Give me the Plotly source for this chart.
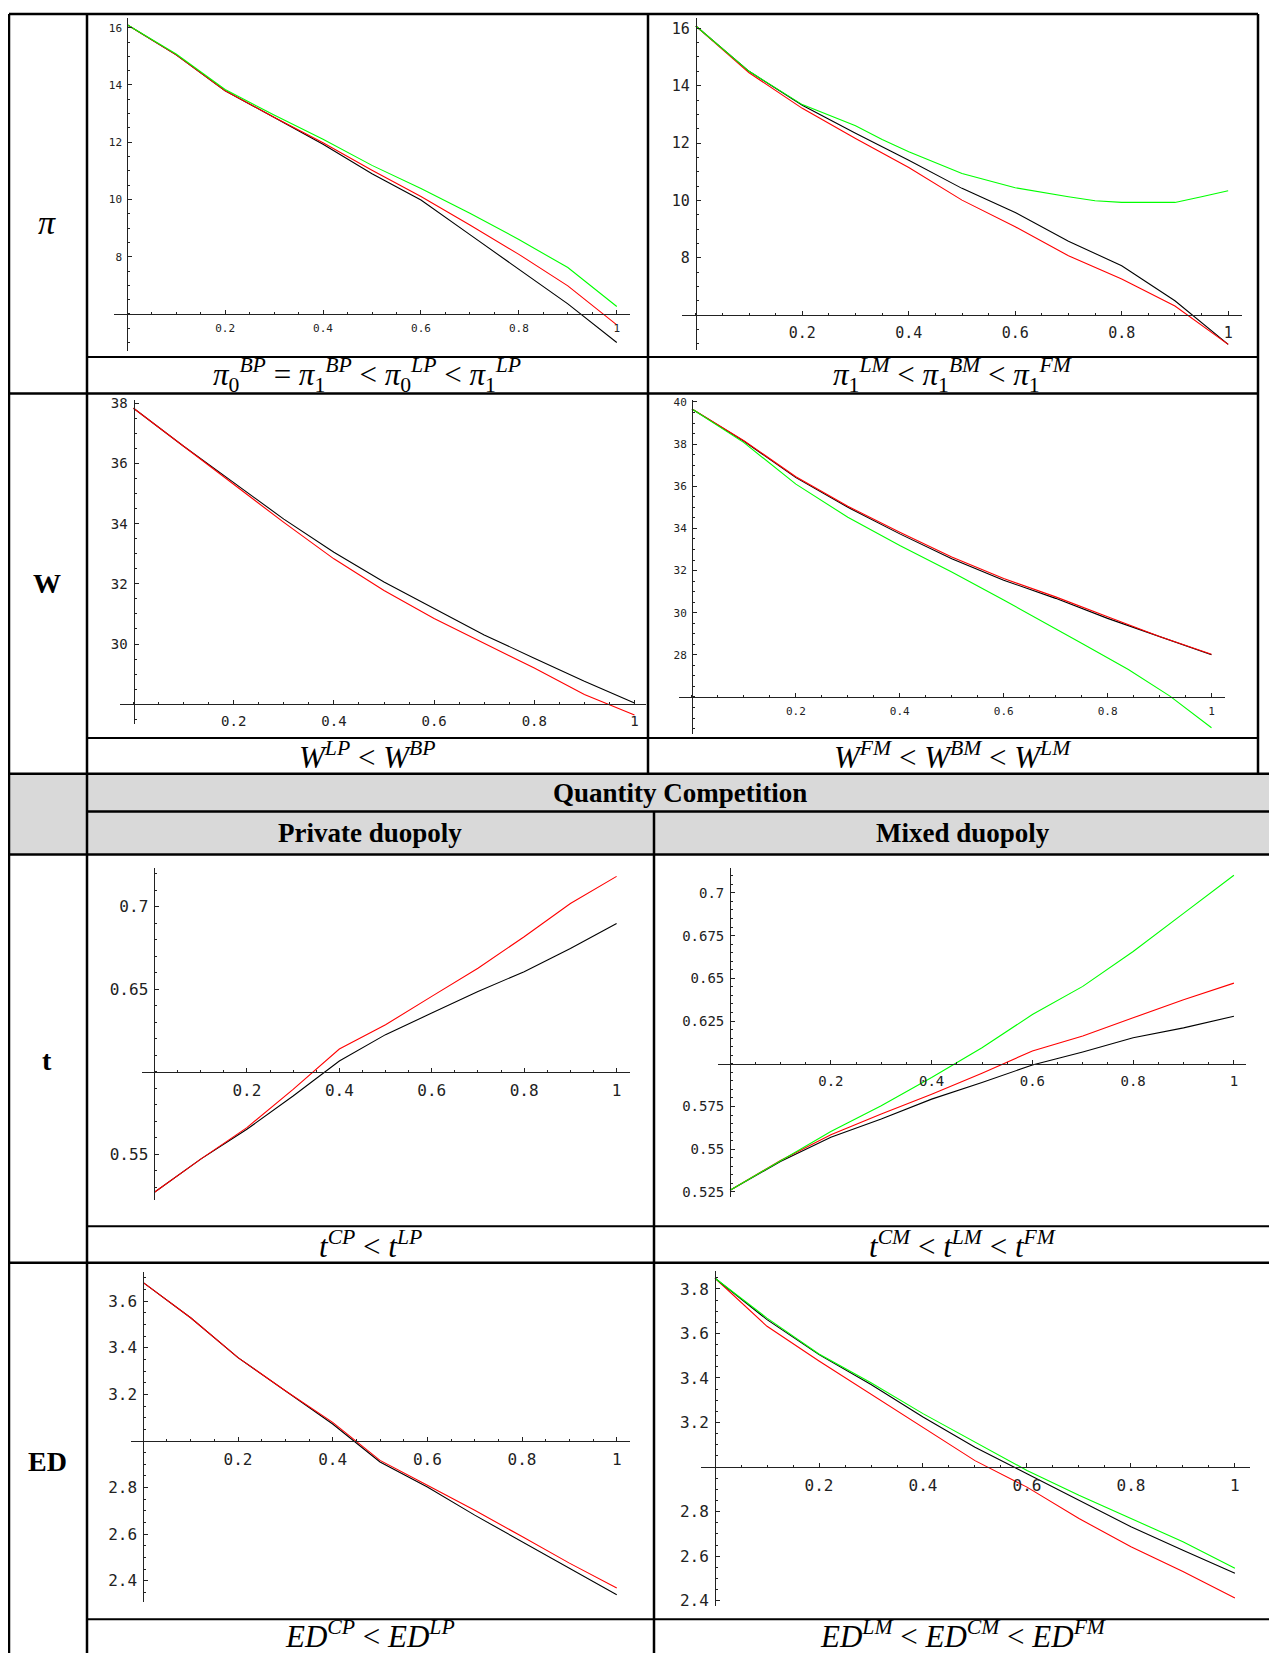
import plotly.graph_objects as go

# page offset: the browser puts an 8px margin around the plot div
OFF = 8
FIG_W, FIG_H = 1277 - OFF, 1657 - OFF

# ---------------- data ----------------
alpha = [0.0, 0.1, 0.2, 0.3, 0.4, 0.5, 0.6, 0.7, 0.8, 0.9, 1.0]

# Profit, private duopoly
pi_BP = [16.1, 15.05, 13.8, 12.85, 11.93, 10.9, 9.98, 8.77, 7.56, 6.35, 5.0]
pi_LP0 = [16.1, 15.05, 13.8, 12.87, 11.98, 11.02, 10.1, 9.11, 8.08, 6.98, 5.62]
pi_LP1 = [16.1, 15.08, 13.84, 12.95, 12.1, 11.19, 10.38, 9.52, 8.6, 7.62, 6.26]

# Profit, mixed duopoly
pi_BM = [16.08, 14.5, 13.32, 12.34, 11.4, 10.42, 9.58, 8.58, 7.72, 6.5, 4.98]
pi_LM = [16.08, 14.45, 13.21, 12.16, 11.15, 10.01, 9.08, 8.07, 7.26, 6.32, 4.98]
alpha_pi_FM = [0.0, 0.1, 0.2, 0.3, 0.35, 0.4, 0.5, 0.6, 0.7, 0.75, 0.8, 0.9, 0.95, 1.0]
pi_FM = [16.08, 14.5, 13.34, 12.6, 12.12, 11.7, 10.94, 10.44, 10.13, 9.99, 9.93, 9.93, 10.13, 10.34]

# Welfare, private duopoly
W_BP = [37.83, 36.57, 35.36, 34.15, 33.05, 32.06, 31.18, 30.3, 29.53, 28.76, 28.04]
W_LP = [37.83, 36.57, 35.3, 34.04, 32.83, 31.78, 30.85, 30.02, 29.2, 28.32, 27.64]

# Welfare, mixed duopoly
W_BM = [39.67, 38.14, 36.41, 35.0, 33.74, 32.56, 31.54, 30.68, 29.73, 28.87, 28.0]
W_LM = [39.67, 38.16, 36.45, 35.05, 33.82, 32.64, 31.62, 30.75, 29.81, 28.87, 28.03]
alpha_W_FM = [0.0, 0.1, 0.2, 0.3, 0.4, 0.5, 0.6, 0.7, 0.75, 0.84, 0.92, 1.0]
W_FM = [39.67, 38.07, 36.1, 34.53, 33.19, 31.93, 30.6, 29.26, 28.55, 27.3, 26.04, 24.54]

# Tax, private duopoly
t_CP = [0.5269, 0.547, 0.5651, 0.5853, 0.6065, 0.6225, 0.6356, 0.6487, 0.6607, 0.6748, 0.6899]
t_LP = [0.5269, 0.547, 0.5661, 0.5893, 0.6138, 0.6285, 0.6457, 0.6628, 0.6819, 0.702, 0.7185]

# Tax, mixed duopoly
t_CM = [0.526, 0.5428, 0.557, 0.5677, 0.5793, 0.589, 0.5993, 0.6069, 0.6152, 0.621, 0.6278]
t_LM = [0.526, 0.5434, 0.5584, 0.5706, 0.5822, 0.5945, 0.6075, 0.6162, 0.6269, 0.6375, 0.6472]
t_FM = [0.526, 0.5434, 0.5603, 0.5754, 0.5919, 0.6094, 0.6288, 0.6453, 0.6657, 0.688, 0.7103]

# Environmental damage, private duopoly
ED_CP = [3.68, 3.529, 3.358, 3.216, 3.073, 2.91, 2.803, 2.682, 2.568, 2.454, 2.34]
ED_LP = [3.68, 3.529, 3.358, 3.216, 3.08, 2.917, 2.81, 2.703, 2.59, 2.476, 2.369]

# Environmental damage, mixed duopoly
ED_LM = [3.848, 3.632, 3.476, 3.327, 3.18, 3.029, 2.91, 2.769, 2.642, 2.531, 2.412]
ED_CM = [3.848, 3.662, 3.505, 3.371, 3.225, 3.089, 2.97, 2.851, 2.732, 2.627, 2.523]
ED_FM = [3.848, 3.669, 3.508, 3.379, 3.24, 3.111, 2.985, 2.873, 2.769, 2.665, 2.546]

x_tickvals = [0.2, 0.4, 0.6, 0.8, 1.0]
x_ticktext = ["0.2", "0.4", "0.6", "0.8", "1"]

pi_ticks = [8, 10, 12, 14, 16]
W_p_ticks = [30, 32, 34, 36, 38]
W_m_ticks = [28, 30, 32, 34, 36, 38, 40]
t_p_ticks = [0.55, 0.65, 0.7]
t_p_text = ["0.55", "0.65", "0.7"]
t_m_ticks = [0.525, 0.55, 0.575, 0.625, 0.65, 0.675, 0.7]
t_m_text = ["0.525", "0.55", "0.575", "0.625", "0.65", "0.675", "0.7"]
ED_p_ticks = [2.4, 2.6, 2.8, 3.2, 3.4, 3.6]
ED_m_ticks = [2.4, 2.6, 2.8, 3.2, 3.4, 3.6, 3.8]

captions = [
    "<i>π</i><sub>0</sub><sup><i>BP</i></sup> = <i>π</i><sub>1</sub><sup><i>BP</i></sup> &lt; <i>π</i><sub>0</sub><sup><i>LP</i></sup> &lt; <i>π</i><sub>1</sub><sup><i>LP</i></sup>",
    "<i>π</i><sub>1</sub><sup><i>LM</i></sup> &lt; <i>π</i><sub>1</sub><sup><i>BM</i></sup> &lt; <i>π</i><sub>1</sub><sup><i>FM</i></sup>",
    "<i>W<sup>LP</sup></i> &lt; <i>W<sup>BP</sup></i>",
    "<i>W<sup>FM</sup></i> &lt; <i>W<sup>BM</sup></i> &lt; <i>W<sup>LM</sup></i>",
    "<i>t<sup>CP</sup></i> &lt; <i>t<sup>LP</sup></i>",
    "<i>t<sup>CM</sup></i> &lt; <i>t<sup>LM</sup></i> &lt; <i>t<sup>FM</sup></i>",
    "<i>ED<sup>CP</sup></i> &lt; <i>ED<sup>LP</sup></i>",
    "<i>ED<sup>LM</sup></i> &lt; <i>ED<sup>CM</sup></i> &lt; <i>ED<sup>FM</sup></i>",
]
row_labels = ["<i>π</i>", "<b>W</b>", "<b>t</b>", "<b>ED</b>"]
header_main = "<b>Quantity Competition</b>"
header_left = "<b>Private duopoly</b>"
header_right = "<b>Mixed duopoly</b>"

BLACK, RED, GREEN = "#000000", "#ff0000", "#00ff00"


def X(px):
    return (px - OFF) / FIG_W


def Y(py):
    return 1 - (py - OFF) / FIG_H


# ---------------- panel geometry (page pixels) ----------------
panels = [
    dict(px=(114, 630, 13, 348), xr=(-0.027, 1.027), yr=(4.7, 16.34), cross=6,
         yt=pi_ticks, ytt=None, ym=0.5, fs=11,
         series=[(alpha, pi_BP, BLACK), (alpha, pi_LP0, RED), (alpha, pi_LP1, GREEN)]),
    dict(px=(682, 1242, 13, 347), xr=(-0.026, 1.026), yr=(4.78, 16.36), cross=6,
         yt=pi_ticks, ytt=None, ym=0.5, fs=15,
         series=[(alpha, pi_BM, BLACK), (alpha, pi_LM, RED), (alpha_pi_FM, pi_FM, GREEN)]),
    dict(px=(120, 646, 397, 723), xr=(-0.027, 1.023), yr=(27.34, 38.11), cross=28,
         yt=W_p_ticks, ytt=None, ym=0.5, fs=14,
         series=[(alpha, W_BP, BLACK), (alpha, W_LP, RED)]),
    dict(px=(679, 1225, 397, 733), xr=(-0.025, 1.026), yr=(24.24, 40.1), cross=26,
         yt=W_m_ticks, ytt=None, ym=0.5, fs=11,
         series=[(alpha, W_BM, BLACK), (alpha, W_LM, RED), (alpha_W_FM, W_FM, GREEN)]),
    dict(px=(142, 630, 868, 1202), xr=(-0.027, 1.029), yr=(0.5219, 0.7234), cross=0.6,
         yt=t_p_ticks, ytt=t_p_text, ym=0.01, fs=16,
         series=[(alpha, t_CP, BLACK), (alpha, t_LP, RED)]),
    dict(px=(718, 1246, 868, 1198), xr=(-0.024, 1.024), yr=(0.5223, 0.7144), cross=0.6,
         yt=t_m_ticks, ytt=t_m_text, ym=0.005, fs=14,
         series=[(alpha, t_CM, BLACK), (alpha, t_LM, RED), (alpha, t_FM, GREEN)]),
    dict(px=(131, 630, 1274, 1606), xr=(-0.026, 1.028), yr=(2.308, 3.725), cross=3.0,
         yt=ED_p_ticks, ytt=None, ym=0.05, fs=16,
         series=[(alpha, ED_CP, BLACK), (alpha, ED_LP, RED)]),
    dict(px=(701, 1250, 1273, 1610), xr=(-0.027, 1.029), yr=(2.375, 3.88), cross=3.0,
         yt=ED_m_ticks, ytt=None, ym=0.05, fs=16,
         series=[(alpha, ED_LM, RED), (alpha, ED_CM, BLACK), (alpha, ED_FM, GREEN)]),
]

fig = go.Figure()
layout = {}
TICK_FONT = "DejaVu Sans Mono"
AX = "#222222"

for i, p in enumerate(panels, start=1):
    left, right, top, bottom = p["px"]
    xdom = [X(left), X(right)]
    ydom = [Y(bottom), Y(top)]
    y0, y1 = p["yr"]
    x0, x1 = p["xr"]
    xpos = ydom[0] + (p["cross"] - y0) / (y1 - y0) * (ydom[1] - ydom[0])
    ypos = xdom[0] + (0 - x0) / (x1 - x0) * (xdom[1] - xdom[0])
    sfx = "" if i == 1 else str(i)
    for xs, ys, col in p["series"]:
        fig.add_trace(go.Scatter(x=xs, y=ys, mode="lines",
                                 line=dict(color=col, width=1.1),
                                 xaxis="x" + sfx, yaxis="y" + sfx,
                                 showlegend=False, hoverinfo="skip"))
    tf = dict(family=TICK_FONT, size=p["fs"], color=AX)
    layout["xaxis" + sfx] = dict(
        domain=xdom, range=list(p["xr"]), anchor="free", position=xpos,
        showline=True, linecolor=AX, linewidth=1, showgrid=False, zeroline=False,
        ticks="inside", ticklen=4, tickwidth=1, tickcolor=AX,
        tickmode="array", tickvals=x_tickvals, ticktext=x_ticktext, tickfont=tf,
        ticklabelstandoff=4,
        minor=dict(tickmode="linear", tick0=0, dtick=0.05, ticks="inside",
                   ticklen=2, tickwidth=1, tickcolor=AX, showgrid=False),
        fixedrange=True,
    )
    ytt = p["ytt"] if p["ytt"] is not None else [str(v) for v in p["yt"]]
    layout["yaxis" + sfx] = dict(
        domain=ydom, range=list(p["yr"]), anchor="free", position=ypos,
        showline=True, linecolor=AX, linewidth=1, showgrid=False, zeroline=False,
        ticks="inside", ticklen=4, tickwidth=1, tickcolor=AX,
        tickmode="array", tickvals=p["yt"], ticktext=ytt, tickfont=tf,
        ticklabelstandoff=3,
        minor=dict(tickmode="linear", tick0=0, dtick=p["ym"], ticks="inside",
                   ticklen=2, tickwidth=1, tickcolor=AX, showgrid=False),
        fixedrange=True,
    )


def hline(y, xa, xb, w=2.5):
    return dict(type="line", xref="paper", yref="paper", x0=X(xa), x1=X(xb),
                y0=Y(y), y1=Y(y), line=dict(color="black", width=w))


def vline(x, ya, yb, w=2.5):
    return dict(type="line", xref="paper", yref="paper", x0=X(x), x1=X(x),
                y0=Y(ya), y1=Y(yb), line=dict(color="black", width=w))


shapes = [
    dict(type="rect", xref="paper", yref="paper", x0=X(9), x1=X(1273),
         y0=Y(854), y1=Y(773), fillcolor="#d9d9d9", line=dict(width=0), layer="below"),
    hline(9, 9, 1258),
    hline(354, 87, 1258, 2),
    hline(390.5, 9, 1258),
    hline(737, 87, 1258, 2),
    hline(773, 9, 1273),
    hline(811, 87, 1273),
    hline(854, 9, 1273),
    hline(1228, 87, 1273, 2),
    hline(1264.5, 9, 1273),
    hline(1623, 87, 1273, 2),
    vline(9, 9, 1657),
    vline(87, 9, 1657),
    vline(648, 9, 773),
    vline(1258, 9, 773),
    vline(654, 811, 1657),
    vline(1273, 773, 1657),
]

cap_pos = [(367, 372), (953, 372), (367, 755), (953, 755),
           (370, 1246), (963, 1246), (370, 1638), (963, 1638)]
annotations = []
for txt, (cx, cy) in zip(captions, cap_pos):
    annotations.append(dict(text=txt, x=X(cx), y=Y(cy), xref="paper", yref="paper",
                            xanchor="center", yanchor="middle", showarrow=False,
                            font=dict(family="Liberation Serif", size=31, color="black")))

label_pos = [219, 582, 1061, 1464]
for txt, ly in zip(row_labels, label_pos):
    annotations.append(dict(text=txt, x=X(47), y=Y(ly), xref="paper", yref="paper",
                            xanchor="center", yanchor="middle", showarrow=False,
                            font=dict(family="Liberation Serif", size=34 if "π" in txt else 28,
                                      color="black")))

for txt, hx, hy in [(header_main, 680, 792), (header_left, 370, 832), (header_right, 963, 832)]:
    annotations.append(dict(text=txt, x=X(hx), y=Y(hy), xref="paper", yref="paper",
                            xanchor="center", yanchor="middle", showarrow=False,
                            font=dict(family="Liberation Serif", size=27, color="black")))

fig.update_layout(
    width=FIG_W, height=FIG_H,
    margin=dict(l=0, r=0, t=0, b=0),
    paper_bgcolor="white", plot_bgcolor="rgba(0,0,0,0)",
    shapes=shapes, annotations=annotations, showlegend=False,
    **layout,
)

fig.write_html("out.html")
